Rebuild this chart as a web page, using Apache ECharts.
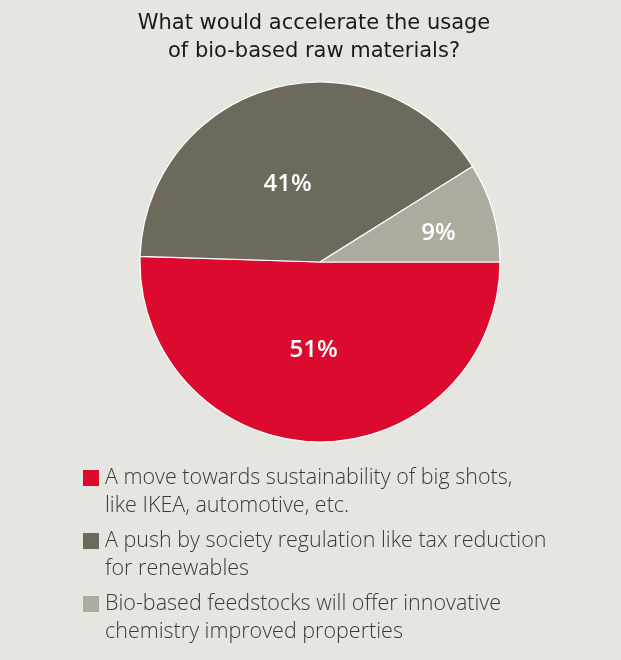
<!DOCTYPE html>
<html>
<head>
<meta charset="utf-8">
<script src="https://cdn.jsdelivr.net/npm/echarts@6/dist/echarts.min.js"></script>
<style>
html,body{margin:0;padding:0;background:#e6e6e1;}
#chart{width:621px;height:660px;}
</style>
</head>
<body>
<div id="chart"></div>
<script>
const titleText = 'What would accelerate the usage\nof bio-based raw materials?';
const categories = [
  'A move towards sustainability of big shots,\nlike IKEA, automotive, etc.',
  'A push by society regulation like tax reduction\nfor renewables',
  'Bio-based feedstocks will offer innovative\nchemistry improved properties'
];
const values = [51, 41, 9];
const colors = ['#dc0a2f', '#6d6a5d', '#adaa9f'];

const labelOffsets = [[-5, -5], [-8, 12], [29, -3]];

const chart = echarts.init(document.getElementById('chart'));
chart.setOption({
  backgroundColor: '#e6e6e1',
  animation: false,
  title: {
    text: titleText,
    left: 309,
    textAlign: 'center',
    top: 5,
    textStyle: {
      fontFamily: 'DejaVu Sans',
      fontSize: 21,
      fontWeight: 'normal',
      color: '#1a1a1a',
      lineHeight: 28
    }
  },
  legend: {
    orient: 'vertical',
    left: 78,
    top: 431,
    height: 225,
    icon: 'rect',
    itemWidth: 16,
    itemHeight: 16,
    itemGap: -21,
    selectedMode: false,
    itemStyle: { borderWidth: 0 },
    formatter: function (name) { return '\n' + name; },
    textStyle: {
      fontFamily: 'Open Sans',
      fontWeight: 300,
      fontSize: 21.5,
      color: '#3a3a3a',
      lineHeight: 28,
      padding: [0, 0, 0, 1]
    },
    data: categories
  },
  series: [{
    type: 'pie',
    center: [320, 262],
    radius: [0, 180],
    startAngle: 0,
    clockwise: true,
    data: categories.map((c, i) => ({
      name: c,
      value: values[i],
      itemStyle: { color: colors[i] },
      label: { offset: labelOffsets[i] }
    })),
    itemStyle: { borderColor: '#ffffff', borderWidth: 1.2 },
    label: {
      position: 'inside',
      formatter: '{c}%',
      color: '#ffffff',
      fontFamily: 'Open Sans',
      fontWeight: 600,
      fontSize: 24
    },
    labelLine: { show: false },
    emphasis: { disabled: true }
  }]
});
</script>
</body>
</html>
